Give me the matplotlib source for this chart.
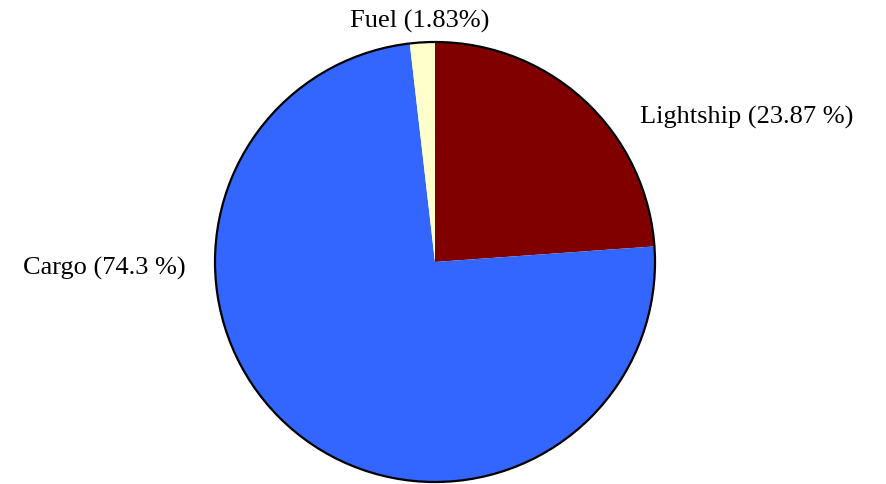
import matplotlib.pyplot as plt
from matplotlib.patches import Circle

# mass breakdown of the ship
parts = ["Lightship", "Cargo", "Fuel"]
shares = [23.87, 74.3, 1.83]
labels = ["Lightship (23.87 %)", "Cargo (74.3 %)", "Fuel (1.83%)"]
colors = ["#800000", "#3366ff", "#ffffcc"]

plt.rcParams['font.family'] = ['Liberation Serif', 'DejaVu Serif']

fig = plt.figure(figsize=(8.86, 4.85), dpi=100)
ax = fig.add_axes([0, 0, 1, 1])

cx, cy, r = 435, 222, 220
ax.pie(shares, colors=colors, startangle=90, counterclock=False,
       center=(cx, cy), radius=r, frame=True,
       wedgeprops=dict(linewidth=0))
ax.add_patch(Circle((cx, cy), r, fill=False, edgecolor='black', linewidth=1.6))
ax.set_xlim(0, 886)
ax.set_ylim(0, 485)
ax.set_aspect('equal')
ax.axis('off')

pos = {"Lightship": (747, 368), "Cargo": (104, 217), "Fuel": (420, 464)}
for p, lab in zip(parts, labels):
    x, y = pos[p]
    ax.text(x, y, lab, fontsize=19, ha='center', va='center')

fig.savefig("out.png", dpi=100)
